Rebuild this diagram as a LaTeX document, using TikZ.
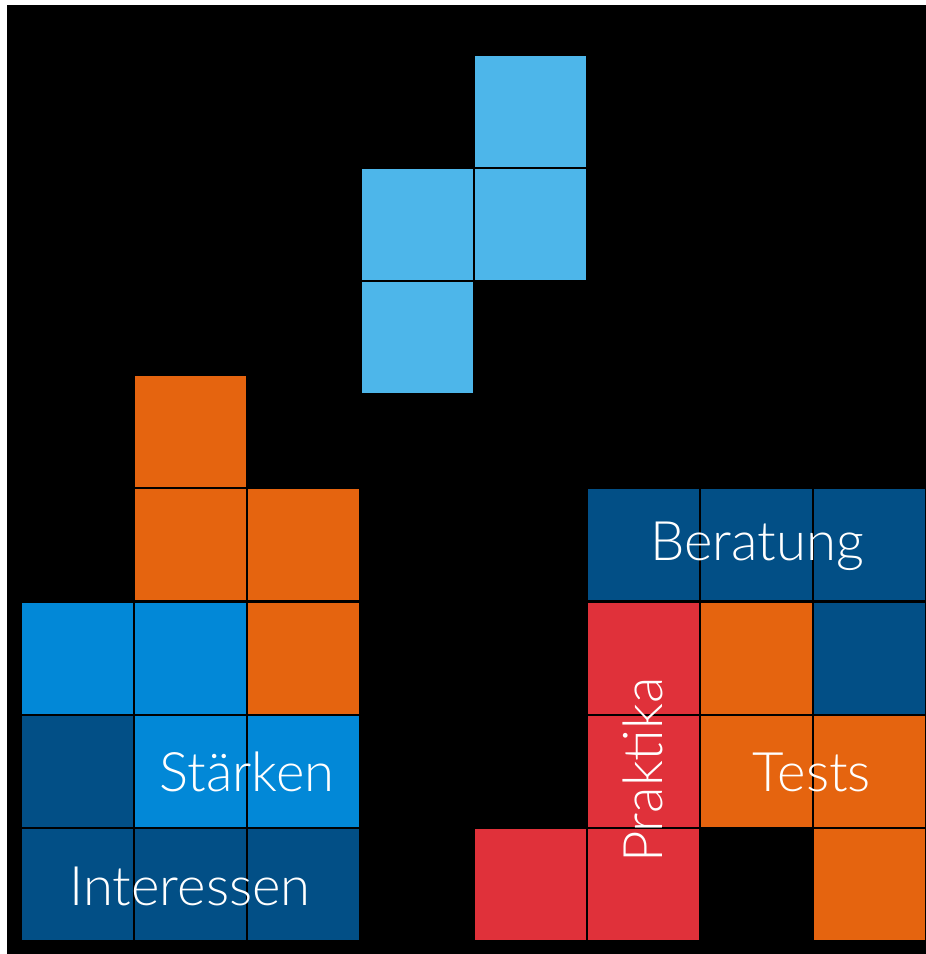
\documentclass[tikz,border=0pt]{standalone}
\usepackage{fontspec}
\setmainfont{Lato}[UprightFont={* Light}]
\usetikzlibrary{positioning}

\definecolor{fallblue}{HTML}{4DB6EA}
\definecolor{tileorange}{HTML}{E5640F}
\definecolor{brightblue}{HTML}{0288D7}
\definecolor{darkblue}{HTML}{024F86}
\definecolor{tilered}{HTML}{E0313A}

\tikzset{
  tilelabel/.style={text=white, inner sep=0pt, font=\fontsize{31}{37}\selectfont}
}

% one square tile: column, top edge, colour
\newcommand{\tile}[3]{\fill[#3] (22+113.2*#1,#2) rectangle ++(111,111);}

\begin{document}
\begin{tikzpicture}[x=0.02cm, y=-0.02cm]
    \useasboundingbox (0,0) rectangle (926,954);
    \fill[white] (0,0) rectangle (926,954);
    \fill[black] (7,5) rectangle (926,954);

    % falling piece
    \foreach \c/\r in {4/55.8, 3/169, 4/169, 3/282.3}
        {\tile{\c}{\r}{fallblue}}

    % left stack
    \foreach \c/\r in {1/376.2, 1/489.4, 2/489.4, 2/602.6}
        {\tile{\c}{\r}{tileorange}}
    \foreach \c/\r in {0/602.6, 1/602.6, 1/715.8, 2/715.8}
        {\tile{\c}{\r}{brightblue}}
    \foreach \c/\r in {0/715.8, 0/829, 1/829, 2/829}
        {\tile{\c}{\r}{darkblue}}

    % right stack
    \foreach \c/\r in {5/489.4, 6/489.4, 7/489.4, 7/602.6}
        {\tile{\c}{\r}{darkblue}}
    \foreach \c/\r in {5/602.6, 5/715.8, 5/829, 4/829}
        {\tile{\c}{\r}{tilered}}
    \foreach \c/\r in {6/602.6, 6/715.8, 7/715.8, 7/829}
        {\tile{\c}{\r}{tileorange}}

    % labels
    \node[tilelabel] (interessen) at (190,886) {Interessen};
    \node[tilelabel] (staerken) at (247,772) {Stärken};
    \node[tilelabel] (beratung) at (757,546) {Beratung};
    \node[tilelabel] (tests) at (812,772) {Tests};
    \node[tilelabel, rotate=90] (praktika) at (643,770) {Praktika};
\end{tikzpicture}
\end{document}
